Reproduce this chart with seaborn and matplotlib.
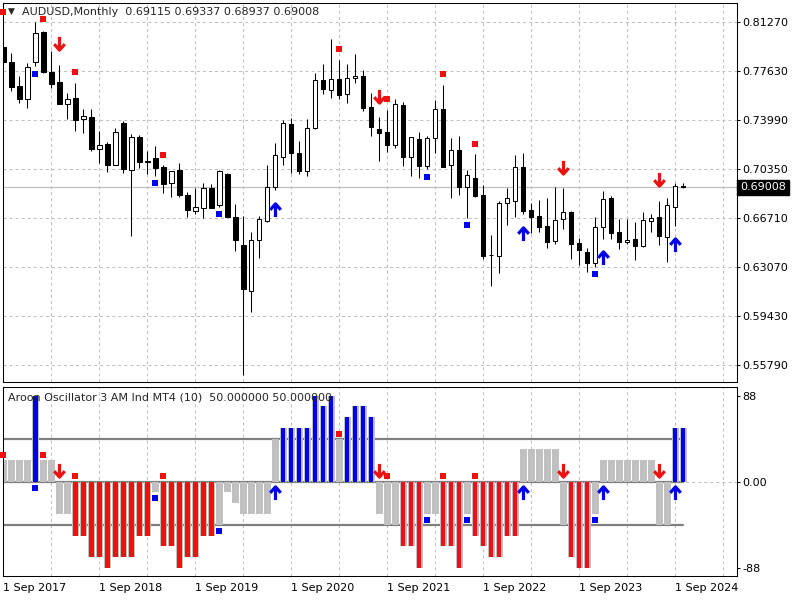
import matplotlib
matplotlib.use("Agg")
import matplotlib.pyplot as plt
from matplotlib.path import Path
import numpy as np
import pandas as pd
import seaborn as sns

# --- data (AUDUSD monthly, Sep 2017 .. Oct 2024) ---
OPEN = [0.7941, 0.7830, 0.7654, 0.7560, 0.7830, 0.8053, 0.7758, 0.7681, 0.7523, 0.7562,
        0.7406, 0.7421, 0.7189, 0.7223, 0.7070, 0.7377, 0.7033, 0.7275, 0.7097, 0.7119,
        0.7052, 0.6931, 0.7028, 0.6842, 0.6723, 0.6750, 0.6896, 0.6768, 0.7000, 0.6678,
        0.6470, 0.6134, 0.6508, 0.6654, 0.6901, 0.7127, 0.7369, 0.7154, 0.7020, 0.7340,
        0.7699, 0.7622, 0.7704, 0.7592, 0.7711, 0.7726, 0.7496, 0.7335, 0.7312, 0.7218,
        0.7510, 0.7124, 0.7260, 0.7062, 0.7266, 0.7483, 0.7065, 0.7176, 0.6901, 0.6968,
        0.6844, 0.6401, 0.6394, 0.6782, 0.6802, 0.7050, 0.6733, 0.6688, 0.6614, 0.6503,
        0.6664, 0.6718, 0.6485, 0.6421, 0.6337, 0.6604, 0.6820, 0.6567, 0.6493, 0.6515,
        0.6468, 0.6649, 0.6681, 0.6535, 0.6758, 0.69115]
HIGH = [0.8125, 0.7897, 0.7728, 0.7827, 0.8132, 0.8065, 0.7914, 0.7810, 0.7600, 0.7676,
        0.7481, 0.7486, 0.7317, 0.7238, 0.7342, 0.7392, 0.7295, 0.7288, 0.7169, 0.7208,
        0.7065, 0.7025, 0.7080, 0.6864, 0.6899, 0.6933, 0.6926, 0.7033, 0.7005, 0.6777,
        0.6688, 0.6572, 0.6688, 0.7067, 0.7228, 0.7401, 0.7414, 0.7245, 0.7409, 0.7748,
        0.7817, 0.8001, 0.7847, 0.7815, 0.7892, 0.7773, 0.7600, 0.7421, 0.7476, 0.7555,
        0.7535, 0.7275, 0.7312, 0.7283, 0.7550, 0.7661, 0.7268, 0.7283, 0.7030, 0.7146,
        0.6919, 0.6547, 0.6800, 0.6894, 0.7141, 0.7154, 0.6787, 0.6807, 0.6820, 0.6904,
        0.6896, 0.6723, 0.6522, 0.6448, 0.6681, 0.6877, 0.6839, 0.6666, 0.6666, 0.6644,
        0.6720, 0.6703, 0.6800, 0.6820, 0.6936, 0.69337]
LOW = [0.7822, 0.7619, 0.7530, 0.7493, 0.7803, 0.7748, 0.7642, 0.7520, 0.7409, 0.7322,
       0.7307, 0.7174, 0.7085, 0.7018, 0.7065, 0.7010, 0.6542, 0.7047, 0.7003, 0.6988,
       0.6862, 0.6832, 0.6832, 0.6678, 0.6703, 0.6671, 0.6748, 0.6758, 0.6681, 0.6431,
       0.5507, 0.5978, 0.6374, 0.6646, 0.6881, 0.7067, 0.7005, 0.7000, 0.6988, 0.7335,
       0.7592, 0.7562, 0.7560, 0.7530, 0.7674, 0.7471, 0.7285, 0.7099, 0.7166, 0.7191,
       0.7062, 0.6988, 0.6971, 0.7035, 0.7159, 0.7052, 0.6825, 0.6844, 0.6671, 0.6832,
       0.6366, 0.6171, 0.6267, 0.6621, 0.6683, 0.6703, 0.6564, 0.6572, 0.6453, 0.6480,
       0.6594, 0.6366, 0.6324, 0.6272, 0.6312, 0.6520, 0.6517, 0.6441, 0.6478, 0.6359,
       0.6461, 0.6572, 0.6475, 0.6344, 0.6614, 0.68937]
CLOSE = [0.7830, 0.7649, 0.7560, 0.7798, 0.8050, 0.7756, 0.7671, 0.7523, 0.7560, 0.7404,
         0.7429, 0.7189, 0.7213, 0.7070, 0.7310, 0.7040, 0.7273, 0.7092, 0.7092, 0.7047,
         0.6929, 0.7020, 0.6847, 0.6735, 0.6753, 0.6894, 0.6750, 0.7020, 0.6683, 0.6508,
         0.6144, 0.6510, 0.6664, 0.6901, 0.7139, 0.7377, 0.7159, 0.7025, 0.7340, 0.7699,
         0.7634, 0.7704, 0.7590, 0.7711, 0.7726, 0.7493, 0.7347, 0.7307, 0.7218, 0.7518,
         0.7124, 0.7273, 0.7062, 0.7268, 0.7481, 0.7055, 0.7179, 0.6901, 0.6993, 0.6839,
         0.6394, 0.6396, 0.6782, 0.6820, 0.7050, 0.6725, 0.6683, 0.6609, 0.6498, 0.6659,
         0.6718, 0.6483, 0.6433, 0.6337, 0.6604, 0.6815, 0.6564, 0.6498, 0.6510, 0.6468,
         0.6656, 0.6671, 0.6542, 0.6770, 0.6911, 0.69008]
AROON = [22, 22, 22, 22, 88, 22, 22, -33, -33, -55,
         -55, -77, -77, -88, -77, -77, -77, -55, -55, -11,
         -66, -66, -88, -77, -77, -55, -55, -44, -11, -22,
         -33, -33, -33, -33, 44, 55, 55, 55, 55, 88,
         77, 88, 44, 66, 77, 77, 66, -33, -44, -44,
         -66, -66, -88, -33, -33, -66, -66, -88, -33, -55,
         -66, -77, -77, -55, -55, 33, 33, 33, 33, 33,
         -44, -77, -88, -88, -33, 22, 22, 22, 22, 22,
         22, 22, -44, -44, 55, 55]
LEVELS = [44, 0, -44]

PRICE_TICKS = [0.81270, 0.77630, 0.73990, 0.70350, 0.66710, 0.63070, 0.59430, 0.55790]
IND_TICKS = [88, 0, -88]
IND_TICK_LABELS = ["88", "0.00", "-88"]
DATE_BARS = [0, 12, 24, 36, 48, 60, 72, 84]
DATE_LABELS = ["1 Sep 2017", "1 Sep 2018", "1 Sep 2019", "1 Sep 2020",
               "1 Sep 2021", "1 Sep 2022", "1 Sep 2023", "1 Sep 2024"]
LAST_PRICE = 0.69008

# signal markers: bar index, price-panel value, oscillator-panel value
RED_SQ_BARS = [0, 5, 9, 20, 42, 48, 55, 59]
RED_SQ_PRICE = [0.8204, 0.8149, 0.7756, 0.7139, 0.7926, 0.7555, 0.7741, 0.7221]
RED_SQ_IND = [27, 27, 6, 6, 49, 6, 6, 6]
BLUE_SQ_BARS = [4, 19, 27, 53, 58, 74]
BLUE_SQ_PRICE = [0.7743, 0.6931, 0.6703, 0.6976, 0.6619, 0.6255]
BLUE_SQ_IND = [-6, -17, -50, -39, -39, -39]
DOWN_BARS = [7, 47, 70, 82]
DOWN_PRICE = [0.7971, 0.7580, 0.7055, 0.6966]
DOWN_IND = [12, 12, 12, 12]
UP_BARS = [34, 65, 75, 84]
UP_PRICE = [0.6733, 0.6555, 0.6374, 0.6473]
UP_IND = [-12, -12, -12, -12]

TITLE = "AUDUSD,Monthly  0.69115 0.69337 0.68937 0.69008"
IND_TITLE = "Aroon Oscillator 3 AM Ind MT4 (10)  50.000000 50.000000"

RED = "#ee1111"
BLUE = "#0000ee"
SILVER = "#c0c0c0"
GRAY = "#808080"
DASH = (0, (2.9, 2.9))


def px_box(x0, y0, x1, y1):
    return [x0 / 800, 1 - y1 / 600, (x1 - x0) / 800, (y1 - y0) / 600]


def arrow_path(down=True):
    s = -1 if down else 1
    verts = [(0, -s * 1.0), (0, s * 0.9), (-0.8, s * 0.1), (0, s * 1.0), (0.8, s * 0.1)]
    codes = [Path.MOVETO, Path.LINETO, Path.MOVETO, Path.LINETO, Path.LINETO]
    return Path(verts, codes)


def style_axes(ax):
    for sp in ax.spines.values():
        sp.set_color("black")
        sp.set_linewidth(0.75)
    ax.set_xlabel("")
    ax.set_ylabel("")
    ax.set_xlim(-0.05, 91.7)
    for b in range(6, 91, 6):
        ax.axvline(b, color=SILVER, lw=0.75, ls=DASH, zorder=0)
    ax.yaxis.tick_right()
    ax.tick_params(axis="y", length=2.2, width=0.75, pad=2, labelsize=8, colors="black")


def draw_markers(ax, red_sq, blue_sq, down, up):
    sns.scatterplot(x=RED_SQ_BARS, y=red_sq, marker="s", s=22, color=RED,
                    linewidth=0, ax=ax, zorder=6, clip_on=False)
    sns.scatterplot(x=BLUE_SQ_BARS, y=blue_sq, marker="s", s=22, color=BLUE,
                    linewidth=0, ax=ax, zorder=6)
    ax.plot(DOWN_BARS, down, ls="none", marker=arrow_path(True), ms=9.5, mew=2.3,
            mfc="none", mec=RED, zorder=6)
    ax.plot(UP_BARS, up, ls="none", marker=arrow_path(False), ms=9.5, mew=2.3,
            mfc="none", mec=BLUE, zorder=6)


def main():
    sns.set_style("white")
    plt.rcParams["font.family"] = ["DejaVu Sans"]
    plt.rcParams["font.size"] = 8

    fig = plt.figure(figsize=(8, 6), dpi=100)
    ax = fig.add_axes(px_box(3, 3, 736.7, 382))
    ax2 = fig.add_axes(px_box(3, 387, 736.7, 576))

    # price panel
    bars = np.arange(len(OPEN))
    o, h, l, c = map(np.array, (OPEN, HIGH, LOW, CLOSE))
    ax.vlines(bars, l, h, color="black", lw=0.75, zorder=2)
    body_lo = np.minimum(o, c)
    body_h = np.maximum(np.abs(c - o), 0.0003)
    fills = np.where(c >= o, "white", "black")
    ax.bar(bars, body_h, bottom=body_lo, width=0.55, color=fills,
           edgecolor="black", linewidth=0.75, zorder=3)
    for v in PRICE_TICKS:
        ax.axhline(v, color=SILVER, lw=0.75, ls=DASH, zorder=0)
    ax.axhline(LAST_PRICE, color=SILVER, lw=0.9, zorder=1)
    draw_markers(ax, RED_SQ_PRICE, BLUE_SQ_PRICE, DOWN_PRICE, UP_PRICE)
    style_axes(ax)
    ax.set_ylim(0.5455, 0.82704)
    ax.set_yticks(PRICE_TICKS, [f"{v:.5f}" for v in PRICE_TICKS])
    ax.set_xticks([])
    ax.annotate(f"{LAST_PRICE:.5f}", xy=(1, LAST_PRICE), xycoords=("axes fraction", "data"),
                xytext=(2.5, 0), textcoords="offset points", ha="left", va="center",
                color="white", fontsize=8, annotation_clip=False,
                bbox=dict(boxstyle="square,pad=0.25", fc="black", ec="black"))

    # oscillator panel
    df = pd.DataFrame({"bar": bars, "value": AROON})
    ax2.axhline(0, color=SILVER, lw=0.75, ls=DASH, zorder=0)
    for lv in LEVELS:
        ax2.plot([-0.05, bars[-1]], [lv, lv], color=GRAY, lw=1.6, zorder=1)
    sns.barplot(data=df, x="bar", y="value", native_scale=True, width=0.85,
                color=SILVER, saturation=1, errorbar=None, linewidth=0,
                ax=ax2, zorder=2)
    strong = df[df["value"].abs() > LEVELS[0]].copy()
    strong["side"] = np.where(strong["value"] > 0, "up", "down")
    sns.barplot(data=strong, x="bar", y="value", hue="side", native_scale=True,
                width=0.55, palette={"up": BLUE, "down": RED}, saturation=1,
                errorbar=None, linewidth=0, dodge=False, legend=False,
                ax=ax2, zorder=3)
    draw_markers(ax2, RED_SQ_IND, BLUE_SQ_IND, DOWN_IND, UP_IND)
    style_axes(ax2)
    ax2.set_ylim(-96.3, 96.7)
    ax2.set_yticks(IND_TICKS, IND_TICK_LABELS)
    ax2.set_xticks(DATE_BARS, DATE_LABELS)
    ax2.tick_params(axis="x", length=2.2, width=0.75, pad=2.5, labelsize=8, colors="black")
    for lbl in ax2.get_xticklabels():
        lbl.set_ha("left")

    # headers
    fig.text(11 / 800, 1 - 11.5 / 600, "\u25BC", ha="center", va="center", fontsize=6.5)
    fig.text(22 / 800, 1 - 12 / 600, TITLE, ha="left", va="center", fontsize=8)
    fig.text(8 / 800, 1 - 397 / 600, IND_TITLE, ha="left", va="center", fontsize=8)

    fig.savefig("out.png", dpi=100)
    plt.close(fig)


if __name__ == "__main__":
    main()
